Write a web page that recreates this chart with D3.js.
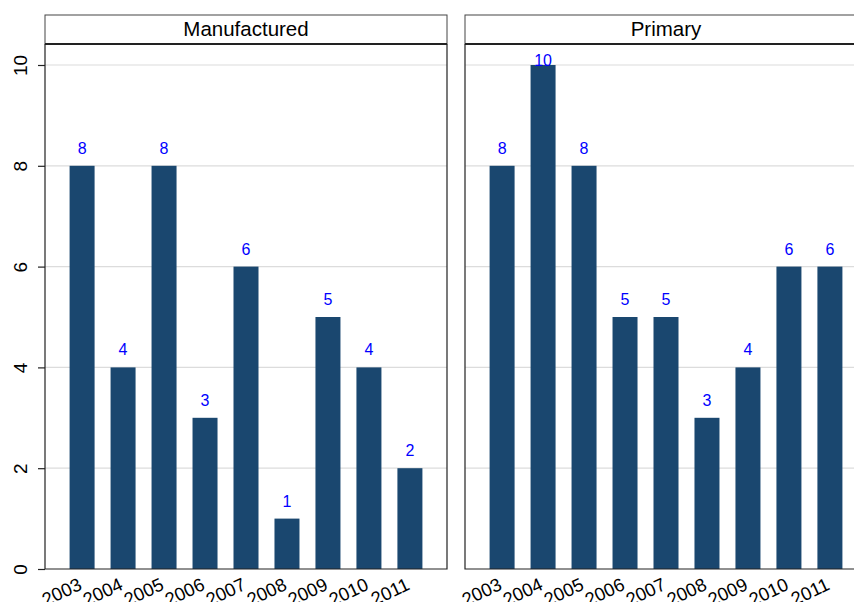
<!DOCTYPE html>
<html><head><meta charset="utf-8">
<script src="https://cdn.jsdelivr.net/npm/d3@7"></script>
<style>body{margin:0;background:#fff;} svg{display:block;}</style>
</head><body>
<svg id="c" width="854" height="602"></svg>
<script>
const years = ["2003","2004","2005","2006","2007","2008","2009","2010","2011"];
const panels = ["Manufactured","Primary"];
const manufactured = [8,4,8,3,6,1,5,4,2];
const primary = [8,10,8,5,5,3,4,6,6];
const yTicks = [0,2,4,6,8,10];
const seriesValues = [manufactured, primary];

const svg = d3.select("#c");
const font = "Liberation Sans, Arial, Helvetica, sans-serif";
const panelX = [45, 465];
const panelW = 402;
const headTop = 15, headBot = 44, plotBot = 569;

const y = d3.scaleLinear().domain([0,10]).range([plotBot, 65]);

panels.forEach((name, i) => {
  const x0 = panelX[i];
  const g = svg.append("g");
  const x = d3.scaleBand().domain(years).range([x0, x0 + panelW]).paddingInner(0.39).paddingOuter(0.6);
  // grid
  g.selectAll("line.grid").data(yTicks.filter(d => d > 0)).join("line")
    .attr("x1", x0).attr("x2", x0 + panelW)
    .attr("y1", d => y(d)).attr("y2", d => y(d))
    .attr("stroke", "#dcdcdc").attr("stroke-width", 1.2);
  // bars
  const vals = seriesValues[i];
  g.selectAll("rect.bar").data(years).join("rect")
    .attr("x", d => x(d)).attr("width", x.bandwidth())
    .attr("y", (d, j) => y(vals[j])).attr("height", (d, j) => plotBot - y(vals[j]))
    .attr("fill", "#1a476f");
  // value labels
  g.selectAll("text.val").data(years).join("text")
    .attr("x", d => x(d) + x.bandwidth() / 2)
    .attr("y", (d, j) => Math.max(y(vals[j]) - 12, headBot + 21.5))
    .attr("text-anchor", "middle")
    .attr("font-family", font).attr("font-size", 16).attr("fill", "#0000ff")
    .text((d, j) => vals[j]);
  // frame
  g.append("path")
    .attr("d", `M${x0},${headBot}V${plotBot}H${x0 + panelW}V${headBot}`)
    .attr("fill", "none").attr("stroke", "#222").attr("stroke-width", 1.2);
  // header
  g.append("rect").attr("x", x0).attr("y", headTop).attr("width", panelW).attr("height", headBot - headTop)
    .attr("fill", "#fff").attr("stroke", "#444").attr("stroke-width", 1);
  g.append("line").attr("x1", x0).attr("x2", x0 + panelW).attr("y1", headBot).attr("y2", headBot)
    .attr("stroke", "#222").attr("stroke-width", 2);
  g.append("text").attr("x", x0 + panelW / 2).attr("y", 36)
    .attr("text-anchor", "middle").attr("font-family", font).attr("font-size", 20.5).attr("fill", "#000")
    .text(name);
  // x tick labels
  g.selectAll("text.xt").data(years).join("text")
    .attr("transform", d => `translate(${x(d) + x.bandwidth() / 2 + 1},${plotBot + 20}) rotate(-25)`)
    .attr("text-anchor", "end")
    .attr("font-family", font).attr("font-size", 18.5).attr("fill", "#000")
    .text(d => d);
  // y axis only on first
  if (i === 0) {
    const ya = d3.axisLeft(y).tickValues(yTicks).tickSize(7).tickPadding(0).tickFormat(d3.format("d"));
    const ag = g.append("g").attr("transform", `translate(${x0},0)`).call(ya);
    ag.select(".domain").remove();
    ag.selectAll(".tick line").attr("stroke", "#222").attr("stroke-width", 1.2);
    ag.selectAll(".tick text").attr("font-family", font).attr("font-size", 19).attr("fill", "#000")
      .attr("text-anchor", "middle").attr("x", 0).attr("dy", 0)
      .attr("transform", "translate(-24.5,0) rotate(-90)")
      .attr("dominant-baseline", "central");
  }
});
</script>
</body></html>
